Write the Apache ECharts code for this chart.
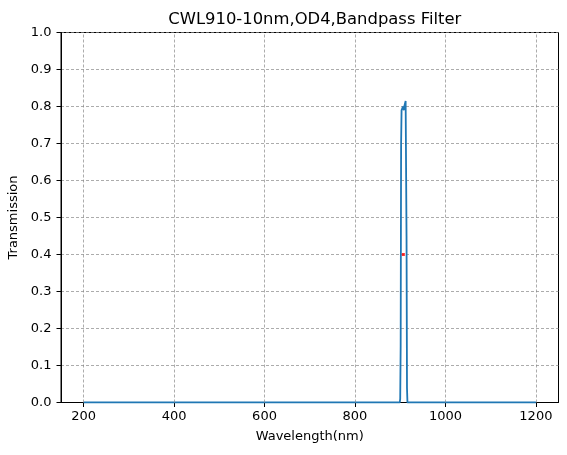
<!DOCTYPE html>
<html><head><meta charset="utf-8">
<script src="https://cdn.jsdelivr.net/npm/echarts@6/dist/echarts.min.js"></script>
<style>html,body{margin:0;padding:0;background:#fff}#c{width:567px;height:455px}</style>
</head><body><div id="c"></div>
<script>
const title = 'CWL910-10nm,OD4,Bandpass Filter';
const wavelengths = [200, 899, 900, 901, 902, 903, 904, 905, 906, 907, 908, 909, 910, 911, 912, 913, 914, 915, 916, 1200];
const transmission = [0, 0, 0.01, 0.15, 0.7, 0.79, 0.795, 0.79, 0.8, 0.795, 0.79, 0.8, 0.795, 0.8, 0.815, 0.81, 0.45, 0.04, 0, 0];
const cwlPoint = [907, 0.4];
const xTicks = [200, 400, 600, 800, 1000, 1200];

const chart = echarts.init(document.getElementById('c'), null, {renderer: 'canvas'});
const font = '"DejaVu Sans", sans-serif';
chart.setOption({
  animation: false,
  textStyle: {fontFamily: font},
  title: {text: title, left: 309.75, textAlign: 'center', top: 7, textStyle: {fontFamily: font, fontSize: 16.4, fontWeight: 'normal', color: '#000'}},
  grid: {left: 61, right: 8.5, top: 32.5, bottom: 52.5, show: true, borderColor: '#000', borderWidth: 1, outerBoundsMode: 'none', containLabel: false},
  xAxis: {
    type: 'value', min: 150, max: 1250,
    name: 'Wavelength(nm)', nameLocation: 'middle', nameGap: 27.5,
    nameTextStyle: {fontFamily: font, fontSize: 13, color: '#000'},
    axisLine: {lineStyle: {color: '#000'}},
    axisTick: {show: true, length: 4.5, lineStyle: {color: '#000'}, customValues: xTicks},
    axisLabel: {fontFamily: font, fontSize: 13, color: '#000', margin: 8, customValues: xTicks, formatter: v => String(v)},
    splitLine: {show: false}
  },
  yAxis: {
    type: 'value', min: 0, max: 1, interval: 0.1,
    name: 'Transmission', nameLocation: 'middle', nameGap: 35,
    nameTextStyle: {fontFamily: font, fontSize: 13, color: '#000'},
    axisLine: {show: true, lineStyle: {color: '#000'}},
    axisTick: {show: true, length: 4.5, lineStyle: {color: '#000'}},
    axisLabel: {fontFamily: font, fontSize: 13, color: '#000', margin: 9.5, formatter: v => v.toFixed(1)},
    splitLine: {show: true, lineStyle: {color: '#888', type: [3, 2], width: 0.7}}
  },
  series: [
    {
      type: 'line', data: [], silent: true,
      markLine: {symbol: 'none', silent: true, label: {show: false},
        lineStyle: {color: '#888', type: [3, 2], width: 0.7},
        data: xTicks.map(v => ({xAxis: v}))}
    },
    {
      type: 'line', showSymbol: false, z: 3,
      data: wavelengths.map((w, i) => [w, transmission[i]]),
      lineStyle: {color: '#1f77b4', width: 1.8}
    },
    {
      type: 'scatter', z: 4, symbol: 'rect', symbolSize: 3,
      data: [cwlPoint], itemStyle: {color: '#ff0000'}
    }
  ]
});
</script></body></html>
